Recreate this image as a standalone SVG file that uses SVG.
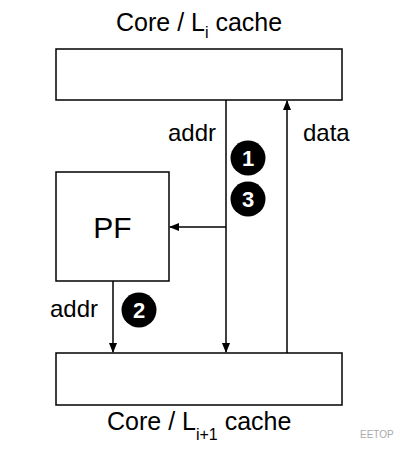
<svg xmlns="http://www.w3.org/2000/svg" width="400" height="455" viewBox="0 0 400 455">
<style>
.box{fill:#fff;stroke:#000;stroke-width:1.5}
.ln{fill:none;stroke:#000;stroke-width:1.5}
.t{font-family:"Liberation Sans",Arial,sans-serif;fill:#000}
.num{font-family:"Liberation Sans",Arial,sans-serif;font-weight:bold;fill:#fff;font-size:22px;text-anchor:middle}
</style>
<defs>
<marker id="ah" markerWidth="10" markerHeight="10" refX="9" refY="5" orient="auto" markerUnits="userSpaceOnUse">
<path d="M0,1 L10,5 L0,9 Z" fill="#000"/>
</marker>
</defs>
<rect width="400" height="455" fill="#fff"/>
<g id="top-cache">
<rect class="box" x="56" y="49" width="286" height="51"/>
<text class="t" x="116" y="31" font-size="25">Core / L<tspan font-size="16" dy="7">i</tspan><tspan dy="-7"> cache</tspan></text>
</g>
<g id="pf">
<rect class="box" x="56" y="172" width="113" height="109"/>
<text class="t" x="112.5" y="238" font-size="30" text-anchor="middle">PF</text>
</g>
<g id="bottom-cache">
<rect class="box" x="56" y="353" width="286" height="52"/>
<text class="t" x="107" y="430" font-size="25">Core / L<tspan font-size="16" dy="10">i+1</tspan><tspan dy="-10"> cache</tspan></text>
</g>
<g id="connectors">
<line class="ln" x1="226" y1="100" x2="226" y2="352" marker-end="url(#ah)"/>
<line class="ln" x1="287" y1="353" x2="287" y2="101" marker-end="url(#ah)"/>
<line class="ln" x1="226" y1="227" x2="170" y2="227" marker-end="url(#ah)"/>
<line class="ln" x1="113" y1="281" x2="113" y2="352" marker-end="url(#ah)"/>
<text class="t" x="168" y="141" font-size="24">addr</text>
<text class="t" x="303" y="141" font-size="24">data</text>
<text class="t" x="50" y="317" font-size="24">addr</text>
</g>
<g id="step1">
<circle cx="248" cy="158" r="17.5" fill="#000"/>
<text class="num" x="248" y="166">1</text>
</g>
<g id="step3">
<circle cx="248" cy="199" r="17.5" fill="#000"/>
<text class="num" x="248" y="207">3</text>
</g>
<g id="step2">
<circle cx="139" cy="310" r="17.5" fill="#000"/>
<text class="num" x="139" y="318">2</text>
</g>
<g id="watermark">
<text x="360" y="438" font-family="'Liberation Sans',Arial,sans-serif" font-size="10" fill="#aaa">EETOP</text>
</g>
</svg>
